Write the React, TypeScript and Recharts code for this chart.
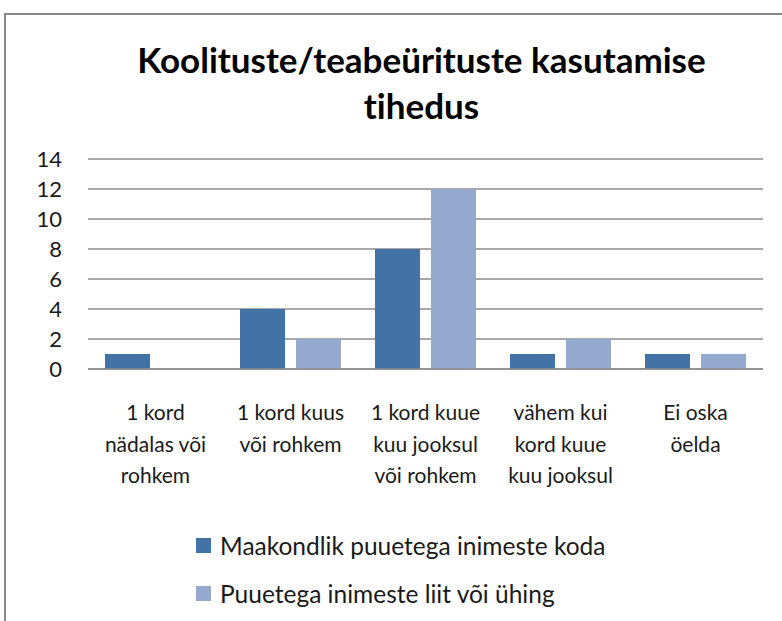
import { Bar, BarChart, CartesianGrid, Legend, XAxis, YAxis } from 'recharts'

const categories = [
  '1 kord\nnädalas või\nrohkem',
  '1 kord kuus\nvõi rohkem',
  '1 kord kuue\nkuu jooksul\nvõi rohkem',
  'vähem kui\nkord kuue\nkuu jooksul',
  'Ei oska\nöelda',
]
const maakondlik = [1, 4, 8, 1, 1]
const liit = [0, 2, 12, 2, 1]
const yTicks = [0, 2, 4, 6, 8, 10, 12, 14]

const seriesNames = ['Maakondlik puuetega inimeste koda', 'Puuetega inimeste liit või ühing']
const colors = ['#4373A6', '#95A9CF']

const data = categories.map((c, i) => ({ cat: c, a: maakondlik[i], b: liit[i] }))

const font = 'Lato, "Open Sans", sans-serif'

function CategoryTick({ x, y, payload }: any) {
  const lines = String(payload.value).split('\n')
  return (
    <text x={x} y={y} textAnchor="middle" fill="#1a1a1a" fontSize={21} fontFamily={font}>
      {lines.map((l, i) => (
        <tspan key={i} x={x} dy={i === 0 ? 43 : 31.5}>
          {l}
        </tspan>
      ))}
    </text>
  )
}

function LegendBox() {
  return (
    <div style={{ fontFamily: font, fontSize: 24.5, color: '#1a1a1a' }}>
      {seriesNames.map((n, i) => (
        <div key={n} style={{ display: 'flex', alignItems: 'center', height: 48 }}>
          <span style={{ width: 15, height: 15, background: colors[i], marginRight: 9, display: 'inline-block' }} />
          <span>{n}</span>
        </div>
      ))}
    </div>
  )
}

export default function App() {
  return (
    <div style={{ position: 'absolute', left: 0, top: 0, width: 782, height: 621, overflow: 'hidden', background: '#fff' }}>
      <div
        style={{
          position: 'absolute',
          left: 4,
          top: 13,
          width: 900,
          height: 900,
          border: '2px solid #8a8a8a',
        }}
      />
      <div
        style={{
          position: 'absolute',
          left: 0,
          top: 36,
          width: 843,
          textAlign: 'center',
          fontFamily: font,
          fontWeight: 700,
          fontSize: 35,
          lineHeight: '46px',
          fontVariantLigatures: 'none',
          color: '#000',
        }}
      >
        Koolituste/teabeürituste kasutamise
        <br />
        tihedus
      </div>
      <div style={{ position: 'absolute', left: 0, top: 0 }}>
        <BarChart
          width={782}
          height={621}
          data={data}
          margin={{ top: 159, right: 19, left: 0, bottom: 112 }}
          barSize={45}
          barGap={11}
        >
          <CartesianGrid vertical={false} stroke="#8c8c8c" strokeWidth={1.5} />
          <XAxis
            dataKey="cat"
            height={140}
            interval={0}
            tickLine={false}
            axisLine={{ stroke: '#8c8c8c', strokeWidth: 1.5 }}
            tick={<CategoryTick />}
          />
          <YAxis
            width={88}
            domain={[0, 14]}
            ticks={yTicks}
            interval={0}
            tickLine={false}
            axisLine={false}
            tickMargin={20}
            tick={{ fill: '#1a1a1a', fontSize: 22, fontFamily: font }}
          />
          <Legend
            layout="horizontal"
            verticalAlign="middle"
            align="center"
            wrapperStyle={{ top: 521, left: 196, width: 'auto' }}
            content={<LegendBox />}
          />
          <Bar dataKey="a" name={seriesNames[0]} fill={colors[0]} isAnimationActive={false} />
          <Bar dataKey="b" name={seriesNames[1]} fill={colors[1]} isAnimationActive={false} />
        </BarChart>
      </div>
    </div>
  )
}
